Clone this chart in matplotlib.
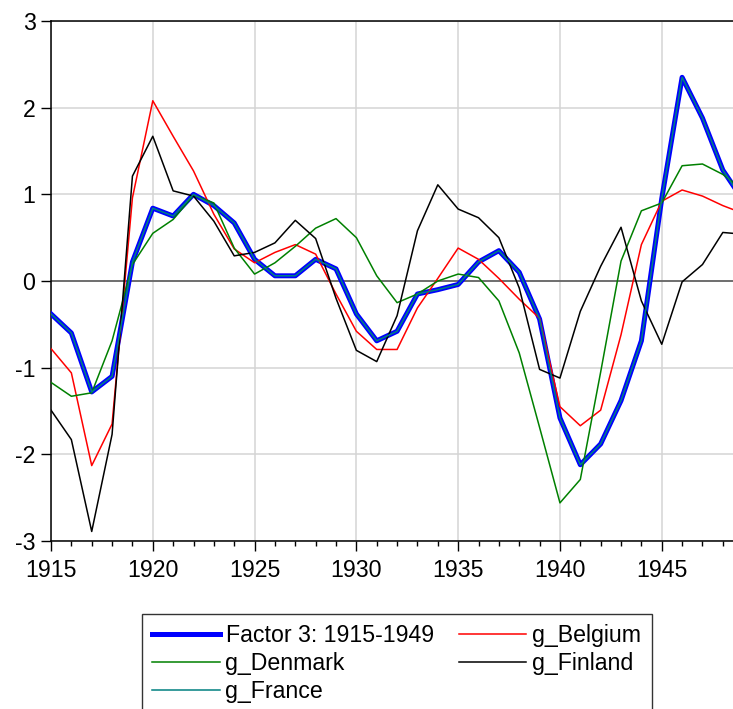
import numpy as np
import matplotlib
matplotlib.use('Agg')
import matplotlib.pyplot as plt
from matplotlib.ticker import MultipleLocator

plt.rcParams['font.family'] = ['Liberation Sans', 'DejaVu Sans']
plt.rcParams['axes.unicode_minus'] = False

# years 1915..1949
years = list(range(1915, 1950))

factor3 = [-0.38, -0.60, -1.28, -1.10, 0.22, 0.84, 0.75, 1.00, 0.87, 0.67,
           0.25, 0.06, 0.06, 0.25, 0.14, -0.38, -0.69, -0.58, -0.15, -0.10,
           -0.04, 0.22, 0.35, 0.10, -0.44, -1.58, -2.12, -1.88, -1.38, -0.69,
           0.95, 2.35, 1.88, 1.28, 0.93]
g_belgium = [-0.78, -1.06, -2.13, -1.65, 0.96, 2.08, 1.67, 1.27, 0.77, 0.37,
             0.21, 0.33, 0.42, 0.31, -0.15, -0.58, -0.79, -0.79, -0.31, 0.03,
             0.38, 0.25, 0.03, -0.21, -0.43, -1.45, -1.67, -1.49, -0.62, 0.42,
             0.92, 1.05, 0.98, 0.87, 0.78]
g_denmark = [-1.17, -1.33, -1.29, -0.69, 0.19, 0.55, 0.71, 0.99, 0.90, 0.38,
             0.08, 0.21, 0.40, 0.61, 0.72, 0.50, 0.06, -0.25, -0.15, 0.00,
             0.08, 0.04, -0.23, -0.83, -1.69, -2.56, -2.29, -1.05, 0.23, 0.81,
             0.90, 1.33, 1.35, 1.23, 1.05]
g_finland = [-1.49, -1.83, -2.89, -1.77, 1.21, 1.67, 1.04, 0.98, 0.69, 0.29,
             0.33, 0.44, 0.70, 0.49, -0.20, -0.80, -0.93, -0.40, 0.58, 1.11,
             0.83, 0.73, 0.50, -0.08, -1.02, -1.12, -0.35, 0.17, 0.62, -0.23,
             -0.73, -0.01, 0.19, 0.56, 0.54]
g_france = [-0.38, -0.60, -1.28, -1.10, 0.22, 0.84, 0.75, 1.00, 0.87, 0.67,
            0.25, 0.06, 0.06, 0.25, 0.14, -0.38, -0.69, -0.58, -0.15, -0.10,
            -0.04, 0.22, 0.35, 0.10, -0.44, -1.58, -2.12, -1.88, -1.38, -0.69,
            0.95, 2.35, 1.88, 1.28, 0.93]

fs = 16.7

fig = plt.figure(figsize=(7.33, 7.09), dpi=100)
ax = fig.add_axes([51 / 733, 1 - 541 / 709, 682 / 733, 520 / 709])

h_fac, = ax.plot(years, factor3, color='#0000ff', lw=3.6, label='Factor 3: 1915-1949', zorder=3)
h_bel, = ax.plot(years, g_belgium, color='#ff0000', lw=1.1, label='g_Belgium', zorder=3)
h_den, = ax.plot(years, g_denmark, color='#008000', lw=1.1, label='g_Denmark', zorder=3)
h_fin, = ax.plot(years, g_finland, color='#000000', lw=1.1, label='g_Finland', zorder=3)
h_fra, = ax.plot(years, g_france, color='#008080', lw=1.1, label='g_France', zorder=4)

ax.axhline(0, color='#505050', lw=1.1, zorder=2)

ax.set_xlim(1915, 1948.5)
ax.set_ylim(-3, 3)
ax.xaxis.set_major_locator(MultipleLocator(5))
ax.xaxis.set_minor_locator(MultipleLocator(1))
ax.yaxis.set_major_locator(MultipleLocator(1))
ax.grid(True, which='major', color='#d4d4d4', lw=1.1, zorder=1)
ax.set_axisbelow(True)

for s in ['left', 'top', 'bottom']:
    ax.spines[s].set_linewidth(1.1)
ax.spines['right'].set_visible(False)

ax.tick_params(axis='x', which='major', length=7.2, width=1.0, labelsize=fs, pad=6)
ax.tick_params(axis='x', which='minor', length=3.6, width=1.0)
ax.tick_params(axis='y', which='major', length=7.2, width=1.0, labelsize=fs, pad=4)

# legend fills row by row in the original, so order handles per column
handles = [h_fac, h_den, h_fra, h_bel, h_fin]
leg = fig.legend(handles=handles, labels=[h.get_label() for h in handles],
                 loc='upper left', bbox_to_anchor=(142 / 733, 1 - 614 / 709),
                 ncol=2, fontsize=fs, frameon=True, fancybox=False,
                 handlelength=2.9, handletextpad=0.25, columnspacing=1.1,
                 labelspacing=0.2, borderpad=0.45, borderaxespad=0)
leg.get_frame().set_edgecolor('black')
leg.get_frame().set_linewidth(1.0)

fig.savefig('out.png', dpi=100)
